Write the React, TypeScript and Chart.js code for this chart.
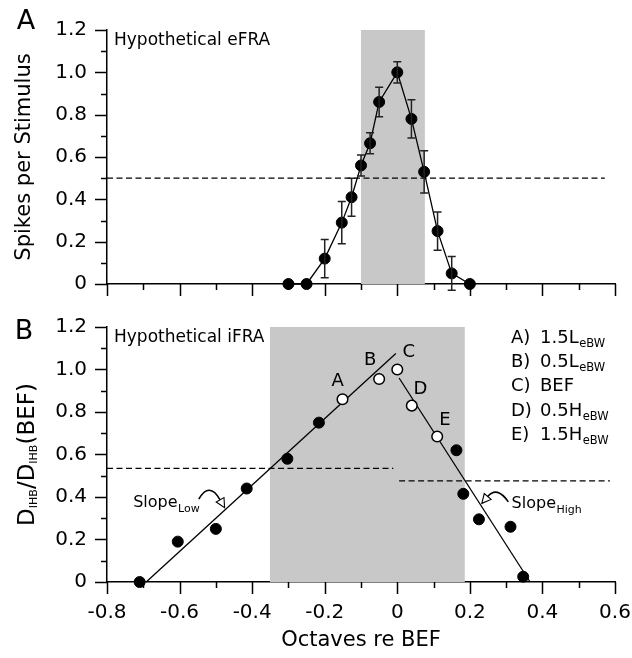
import React, { useEffect, useRef } from "react";
import { Chart, registerables } from "chart.js";
Chart.register(...registerables);

const FONT = "'DejaVu Sans', Verdana, sans-serif";

// ---------- axes ----------
const X_MIN = -0.8;
const X_MAX = 0.6;
const Y_MIN = 0;
const Y_MAX = 1.2;
const TICK_STEP = 0.2;

// ---------- Panel A : hypothetical eFRA ----------
const aOctaves = [-0.3, -0.25, -0.2, -0.153, -0.126, -0.1, -0.075, -0.05, 0, 0.039, 0.074, 0.111, 0.15, 0.2];
const aSpikes = [0, 0, 0.12, 0.29, 0.41, 0.56, 0.665, 0.86, 1.0, 0.78, 0.53, 0.25, 0.05, 0];
const aError = [0, 0, 0.09, 0.1, 0.09, 0.05, 0.05, 0.07, 0.05, 0.09, 0.1, 0.09, 0.08, 0];
const aBand = [-0.1, 0.076];
const aThresholdX = [-0.8, 0.572];
const aThresholdY = 0.5;

// ---------- Panel B : hypothetical iFRA ----------
const bFilledX = [-0.71, -0.605, -0.5, -0.415, -0.303, -0.216, 0.163, 0.182, 0.225, 0.312, 0.347];
const bFilledY = [0, 0.19, 0.25, 0.44, 0.58, 0.75, 0.62, 0.415, 0.295, 0.26, 0.025];
const bOpenX = [-0.151, -0.05, 0, 0.04, 0.11];
const bOpenY = [0.86, 0.955, 1.0, 0.83, 0.685];
const bOpenLabels = ["A", "B", "C", "D", "E"];
const bLabelX = [-0.164, -0.075, 0.032, 0.064, 0.131];
const bLabelY = [0.946, 1.042, 1.08, 0.908, 0.763];
const bLowFitX = [-0.692, -0.004];
const bLowFitY = [0, 1.075];
const bHighFitX = [0.005, 0.366];
const bHighFitY = [0.96, 0];
const bBand = [-0.351, 0.186];
const bLowThreshX = [-0.8, -0.011];
const bLowThreshY = 0.535;
const bHighThreshX = [0.005, 0.586];
const bHighThreshY = 0.476;
const legendKeys = ["A)", "B)", "C)", "D)", "E)"];
const legendMain = ["1.5L", "0.5L", "BEF", "0.5H", "1.5H"];
const legendSub = ["eBW", "eBW", "", "eBW", "eBW"];
// slope annotations (data coordinates): text anchor, arrow start, control, tip
const slopeLowText = [-0.728, 0.352];
const slopeLowArrow = [[-0.547, 0.39], [-0.518, 0.475], [-0.476, 0.35]];
const slopeHighText = [0.315, 0.349];
const slopeHighArrow = [[0.306, 0.377], [0.275, 0.454], [0.233, 0.37]];

const fmt = (v: any) => {
  const n = Number(v);
  return Math.abs(n) < 1e-9 ? "0" : n.toFixed(1);
};

function drawTicks(chart: any) {
  const { ctx, chartArea: ca, scales } = chart;
  const x = scales.x;
  const y = scales.y;
  ctx.save();
  ctx.strokeStyle = "#000";
  ctx.lineWidth = 1.5;
  ctx.beginPath();
  const nx = Math.round((X_MAX - X_MIN) / 0.1);
  for (let i = 0; i <= nx; i++) {
    const px = Math.round(x.getPixelForValue(X_MIN + i * 0.1)) + 0.5;
    const len = i % 2 === 0 ? 12 : 6;
    ctx.moveTo(px, ca.bottom);
    ctx.lineTo(px, ca.bottom + len);
  }
  const ny = Math.round((Y_MAX - Y_MIN) / 0.1);
  for (let i = 0; i <= ny; i++) {
    const py = Math.round(y.getPixelForValue(Y_MIN + i * 0.1)) + 0.5;
    const len = i % 2 === 0 ? 12 : 6;
    ctx.moveTo(ca.left, py);
    ctx.lineTo(ca.left - len, py);
  }
  ctx.stroke();
  ctx.restore();
}

function drawBand(chart: any, band: number[]) {
  const { ctx, scales } = chart;
  const x0 = scales.x.getPixelForValue(band[0]);
  const x1 = scales.x.getPixelForValue(band[1]);
  const y0 = scales.y.getPixelForValue(Y_MAX);
  const y1 = scales.y.getPixelForValue(0);
  ctx.save();
  ctx.fillStyle = "#c8c8c8";
  ctx.fillRect(x0, y0, x1 - x0, y1 - y0);
  ctx.restore();
}

function textWithSub(ctx: any, main: string, sub: string, x: number, y: number, size: number, subSize: number, subDy: number) {
  ctx.font = `${size}px ${FONT}`;
  ctx.fillText(main, x, y);
  const w = ctx.measureText(main).width;
  if (sub) {
    ctx.font = `${subSize}px ${FONT}`;
    ctx.fillText(sub, x + w + 0.5, y + subDy);
  }
}

function drawArrow(chart: any, pts: number[][]) {
  const { ctx, scales } = chart;
  const p = pts.map((q) => [scales.x.getPixelForValue(q[0]), scales.y.getPixelForValue(q[1])]);
  const [s, c, e] = p;
  ctx.save();
  ctx.strokeStyle = "#000";
  ctx.lineWidth = 1.6;
  const ang = Math.atan2(e[1] - c[1], e[0] - c[0]);
  const L = 9;
  const W = 4.5;
  const bx = e[0] - L * Math.cos(ang);
  const by = e[1] - L * Math.sin(ang);
  ctx.beginPath();
  ctx.moveTo(s[0], s[1]);
  ctx.quadraticCurveTo(c[0], c[1], bx, by);
  ctx.stroke();
  ctx.beginPath();
  ctx.moveTo(e[0], e[1]);
  ctx.lineTo(bx + W * Math.sin(ang), by - W * Math.cos(ang));
  ctx.lineTo(bx - W * Math.sin(ang), by + W * Math.cos(ang));
  ctx.closePath();
  ctx.fillStyle = "#fff";
  ctx.fill();
  ctx.lineWidth = 1.1;
  ctx.stroke();
  ctx.restore();
}

const axisX = (showLabels: boolean, height: number) => ({
  type: "linear" as const,
  min: X_MIN,
  max: X_MAX,
  ticks: {
    display: showLabels,
    stepSize: TICK_STEP,
    padding: 0,
    color: "#000",
    maxRotation: 0,
    autoSkip: false,
    font: { family: FONT, size: 20 },
    callback: fmt,
  },
  grid: { display: false, drawTicks: true, tickLength: 19 },
  border: { display: true, color: "#000", width: 1.5 },
  afterFit: (s: any) => {
    s.height = height;
    s.paddingLeft = 0;
    s.paddingRight = 0;
  },
});

const axisY = (title: any) => ({
  type: "linear" as const,
  min: Y_MIN,
  max: Y_MAX,
  ticks: {
    stepSize: TICK_STEP,
    padding: 0,
    color: "#000",
    font: { family: FONT, size: 20 },
    callback: fmt,
  },
  grid: { display: false, drawTicks: true, tickLength: 20 },
  border: { display: true, color: "#000", width: 1.5 },
  title,
  afterFit: (s: any) => {
    s.width = 107;
    s.paddingTop = 0;
    s.paddingBottom = 0;
  },
});

export default function App() {
  const refA = useRef<HTMLCanvasElement>(null);
  const refB = useRef<HTMLCanvasElement>(null);

  useEffect(() => {
    const pluginA = {
      id: "panelA",
      beforeDatasetsDraw(chart: any) {
        drawBand(chart, aBand);
      },
      afterDatasetsDraw(chart: any) {
        const { ctx, scales } = chart;
        ctx.save();
        ctx.strokeStyle = "#222";
        ctx.lineWidth = 1.5;
        ctx.beginPath();
        aOctaves.forEach((xv, i) => {
          if (!aError[i]) return;
          const px = scales.x.getPixelForValue(xv);
          const t = scales.y.getPixelForValue(aSpikes[i] + aError[i]);
          const b = scales.y.getPixelForValue(aSpikes[i] - aError[i]);
          ctx.moveTo(px, t);
          ctx.lineTo(px, b);
          ctx.moveTo(px - 4, t);
          ctx.lineTo(px + 4, t);
          ctx.moveTo(px - 4, b);
          ctx.lineTo(px + 4, b);
        });
        ctx.stroke();
        ctx.restore();
      },
      afterDraw(chart: any) {
        drawTicks(chart);
        const { ctx, chartArea: ca } = chart;
        ctx.save();
        ctx.fillStyle = "#000";
        ctx.textBaseline = "alphabetic";
        ctx.textAlign = "left";
        ctx.font = `17px ${FONT}`;
        ctx.fillText("Hypothetical eFRA", ca.left + 7, ca.top + 15);
        ctx.font = `27px ${FONT}`;
        ctx.textAlign = "center";
        ctx.fillText("A", 26, 29);
        ctx.restore();
      },
    };

    const pluginB = {
      id: "panelB",
      beforeDatasetsDraw(chart: any) {
        drawBand(chart, bBand);
      },
      afterDatasetsDraw(chart: any) {
        const { ctx, scales } = chart;
        ctx.save();
        ctx.fillStyle = "#000";
        ctx.textAlign = "center";
        ctx.textBaseline = "middle";
        ctx.font = `18px ${FONT}`;
        bOpenLabels.forEach((t, i) => {
          ctx.fillText(t, scales.x.getPixelForValue(bLabelX[i]), scales.y.getPixelForValue(bLabelY[i]));
        });
        ctx.textAlign = "left";
        ctx.textBaseline = "alphabetic";
        textWithSub(ctx, "Slope", "Low", scales.x.getPixelForValue(slopeLowText[0]), scales.y.getPixelForValue(slopeLowText[1]), 16, 11, 5);
        textWithSub(ctx, "Slope", "High", scales.x.getPixelForValue(slopeHighText[0]), scales.y.getPixelForValue(slopeHighText[1]), 16, 11, 5);
        ctx.restore();
        drawArrow(chart, slopeLowArrow);
        drawArrow(chart, slopeHighArrow);
      },
      afterDraw(chart: any) {
        drawTicks(chart);
        const { ctx, chartArea: ca } = chart;
        ctx.save();
        ctx.fillStyle = "#000";
        ctx.textAlign = "left";
        ctx.textBaseline = "alphabetic";
        ctx.font = `17px ${FONT}`;
        ctx.fillText("Hypothetical iFRA", ca.left + 7, ca.top + 15);
        // legend of open points
        const lx = ca.right - 104;
        legendKeys.forEach((k, i) => {
          const by = ca.top + 16 + i * 24.2;
          ctx.font = `18px ${FONT}`;
          ctx.fillText(k, lx, by);
          textWithSub(ctx, legendMain[i], legendSub[i], lx + 29, by, 18, 11.5, 4);
        });
        // panel letter
        ctx.font = `27px ${FONT}`;
        ctx.textAlign = "center";
        ctx.fillText("B", 24, 29);
        // y title with subscripts
        const parts: [string, number, number][] = [
          ["D", 23, 0],
          ["IHB", 11, 3],
          ["/", 23, 0],
          ["D", 23, 0],
          ["IHB", 11, 3],
          ["(BEF)", 23, 0],
        ];
        ctx.textAlign = "left";
        let total = 0;
        const widths = parts.map(([t, s]) => {
          ctx.font = `${s}px ${FONT}`;
          const w = ctx.measureText(t).width;
          total += w;
          return w;
        });
        ctx.translate(26, (ca.top + ca.bottom) / 2);
        ctx.rotate(-Math.PI / 2);
        let x = -total / 2;
        parts.forEach(([t, s, dy], i) => {
          ctx.font = `${s}px ${FONT}`;
          ctx.fillText(t, x, 8 + dy);
          x += widths[i];
        });
        ctx.restore();
      },
    };

    const chartA = new Chart(refA.current as HTMLCanvasElement, {
      type: "scatter",
      data: {
        datasets: [
          {
            data: aOctaves.map((x, i) => ({ x, y: aSpikes[i] })),
            showLine: true,
            borderColor: "#000",
            borderWidth: 1.3,
            pointRadius: 5.5,
            pointBackgroundColor: "#000",
            pointBorderColor: "#000",
            pointBorderWidth: 1,
            clip: false,
            order: 0,
          } as any,
          {
            data: aThresholdX.map((x) => ({ x, y: aThresholdY })),
            showLine: true,
            borderColor: "#000",
            borderWidth: 1.3,
            borderDash: [6, 3.5],
            pointRadius: 0,
            clip: false,
            order: 2,
          } as any,
        ],
      },
      options: {
        animation: false,
        responsive: false,
        events: [],
        layout: { padding: { left: 0, top: 30, right: 17, bottom: 0 } },
        plugins: { legend: { display: false }, tooltip: { enabled: false } },
        scales: {
          x: axisX(false, 26),
          y: axisY({
            display: true,
            text: "Spikes per Stimulus",
            color: "#000",
            font: { family: FONT, size: 21 },
            padding: { top: 12, bottom: 0 },
          }),
        } as any,
      },
      plugins: [pluginA],
    });

    const lineStyle = {
      showLine: true,
      borderColor: "#000",
      borderWidth: 1.3,
      pointRadius: 0,
      clip: false,
    };

    const chartB = new Chart(refB.current as HTMLCanvasElement, {
      type: "scatter",
      data: {
        datasets: [
          {
            data: bFilledX.map((x, i) => ({ x, y: bFilledY[i] })),
            showLine: false,
            pointRadius: 5.5,
            pointBackgroundColor: "#000",
            pointBorderColor: "#000",
            pointBorderWidth: 1,
            clip: false,
            order: 0,
          } as any,
          {
            data: bOpenX.map((x, i) => ({ x, y: bOpenY[i] })),
            showLine: false,
            pointRadius: 5.3,
            pointBackgroundColor: "#fff",
            pointBorderColor: "#000",
            pointBorderWidth: 1.5,
            clip: false,
            order: 0,
          } as any,
          { ...lineStyle, data: bLowFitX.map((x, i) => ({ x, y: bLowFitY[i] })), order: 1 } as any,
          { ...lineStyle, data: bHighFitX.map((x, i) => ({ x, y: bHighFitY[i] })), order: 1 } as any,
          { ...lineStyle, borderDash: [6, 3.5], data: bLowThreshX.map((x) => ({ x, y: bLowThreshY })), order: 2 } as any,
          { ...lineStyle, borderDash: [6, 3.5], data: bHighThreshX.map((x) => ({ x, y: bHighThreshY })), order: 2 } as any,
        ],
      },
      options: {
        animation: false,
        responsive: false,
        events: [],
        layout: { padding: { left: 0, top: 17, right: 17, bottom: 0 } },
        plugins: { legend: { display: false }, tooltip: { enabled: false } },
        scales: {
          x: {
            ...axisX(true, 76),
            title: {
              display: true,
              text: "Octaves re BEF",
              color: "#000",
              font: { family: FONT, size: 21 },
              padding: { top: 0, bottom: 5 },
            },
          },
          y: axisY({ display: false }),
        } as any,
      },
      plugins: [pluginB],
    });

    return () => {
      chartA.destroy();
      chartB.destroy();
    };
  }, []);

  return (
    <div style={{ position: "absolute", left: 0, top: 0, width: 632, height: 658, background: "#fff" }}>
      <canvas ref={refA} width={632} height={310} style={{ display: "block", width: 632, height: 310 }} />
      <canvas ref={refB} width={632} height={348} style={{ display: "block", width: 632, height: 348 }} />
    </div>
  );
}
